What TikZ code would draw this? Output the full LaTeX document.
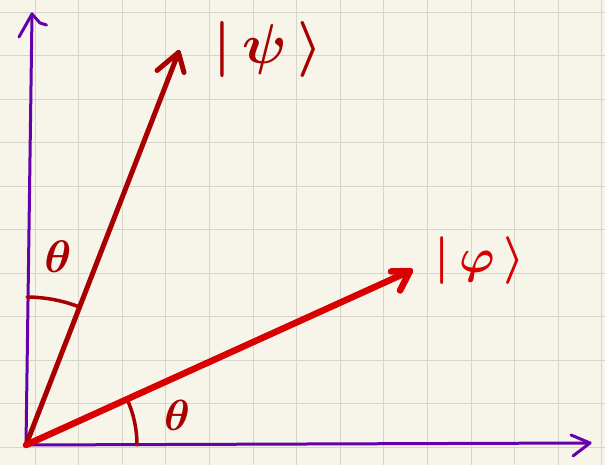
\documentclass[tikz,border=0pt]{standalone}
\usepackage{amsmath}
\definecolor{paper}{HTML}{F7F5E9}
\definecolor{gridc}{HTML}{D6D5C9}
\definecolor{axisc}{HTML}{6600AA}
\definecolor{psic}{HTML}{A80000}
\definecolor{phic}{HTML}{D80000}
\tikzset{
  axisline/.style={draw=axisc, line width=3pt, line cap=round, line join=round},
  psiline/.style={draw=psic, line width=5pt, line cap=round, line join=round},
  philine/.style={draw=phic, line width=6.5pt, line cap=round, line join=round},
  anglearc/.style={draw=psic, line width=3.5pt, line cap=round},
  gridline/.style={draw=gridc, line width=1pt},
  lab/.style={inner sep=0pt, font=\huge\boldmath}
}
\begin{document}
\begin{tikzpicture}[x=1pt,y=1pt]
\fill[paper] (0,0) rectangle (605,465);
\useasboundingbox (0,0) rectangle (605,465);
% grid
\foreach \k in {0,...,13} {\draw[gridline] ({35+43.6*\k},0) -- ({35+43.6*\k},465);}
\foreach \k in {0,...,10} {\draw[gridline] (0,{452.5-43.5*\k}) -- (605,{452.5-43.5*\k});}
% points
\coordinate (O) at (26,20);
\coordinate (Y) at (32,451);
\coordinate (Ya) at (19,428);
\coordinate (Yb) at (40,442);
\coordinate (Yc) at (46.5,440);
\coordinate (X) at (590,22);
\coordinate (Xa) at (571,30);
\coordinate (Xb) at (573,9);
\coordinate (P) at (178.5,412.5);
\coordinate (Pa) at (157,394.5);
\coordinate (Pb) at (184,392.5);
\coordinate (F) at (410,194);
\coordinate (Fa) at (391,193.5);
\coordinate (Fb) at (400,174.5);
% axes
\draw[axisline] (O) -- (Y);
\draw[axisline] (Ya) -- (Y) -- (Yb) -- (Yc);
\draw[axisline] (O) -- (X);
\draw[axisline] (Xa) -- (X) -- (Xb);
% angle arcs
\draw[anglearc] (O) ++(89.6:148) arc[start angle=89.6, end angle=69.2, radius=148];
\draw[anglearc] (O) ++(24.4:111) arc[start angle=24.4, end angle=0, radius=111];
% vectors
\draw[psiline] (O) -- (P);
\draw[psiline] (Pa) -- (P) -- (Pb);
\draw[philine] (O) -- (F);
\draw[philine] (Fa) -- (F) -- (Fb);
% labels
\node[lab, text=psic, scale=2.7] (lpsi) at (268,415) {$\vert\,\psi\,\rangle$};
\node[lab, text=phic, scale=2.3] (lphi) at (480,204) {$\vert\,\varphi\,\rangle$};
\node[lab, text=psic, scale=2.2] (t1) at (58,208) {$\theta$};
\node[lab, text=psic, scale=2.1] (t2) at (177,50) {$\theta$};
\end{tikzpicture}
\end{document}
